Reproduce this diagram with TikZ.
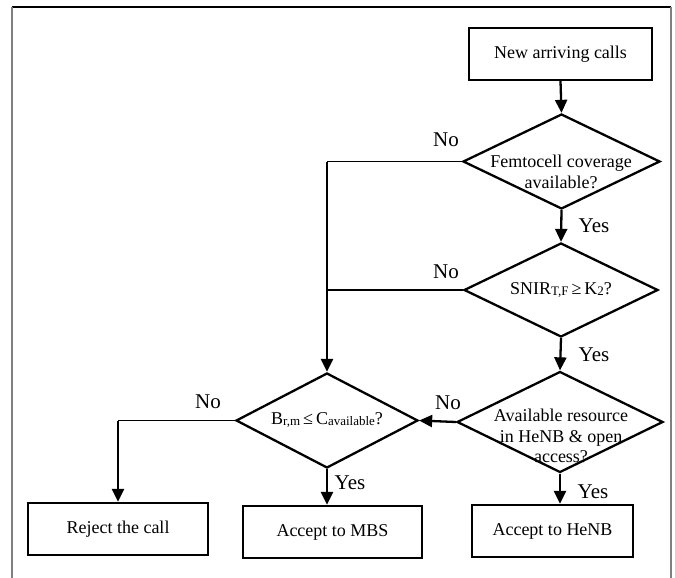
\documentclass[tikz,border=0pt]{standalone}
\usepackage{fontspec}
\setmainfont{Liberation Serif}
\usetikzlibrary{shapes.geometric,arrows.meta}
\begin{document}
\begin{tikzpicture}[x=1pt,y=-1pt,
  txt/.style={font=\fontsize{18}{20.5}\selectfont, inner sep=0pt, align=center},
  box/.style={draw, line width=2.3pt, inner sep=0pt, font=\fontsize{18}{20.5}\selectfont},
  decision/.style={draw, diamond, line width=2.3pt, inner sep=0pt},
  flow/.style={line width=2.3pt, -{Triangle[length=13pt,width=12pt]}},
  branch/.style={line width=1.3pt},
  trunk/.style={line width=2.3pt},
  tag/.style={font=\fontsize{21}{22}\selectfont, inner sep=0pt}]
\useasboundingbox (0,0) rectangle (675,578);

% frame
\draw[line width=1.4pt] (12,7) -- (671,7);
\draw[line width=1.4pt, gray] (12,7) -- (12,578);
\draw[line width=1.4pt, gray] (671,7) -- (671,578);

% process boxes
\node[box, minimum width=183pt, minimum height=52pt] (new) at (560.5,54) {New arriving calls};
\node[box, minimum width=180pt, minimum height=52pt] (rej) at (118,529) {Reject the call};
\node[box, minimum width=179pt, minimum height=52pt] (mbs) at (332.5,532) {Accept to MBS};
\node[box, minimum width=161pt, minimum height=52pt] (henb) at (552.5,531) {Accept to HeNB};

% decision diamonds
\node[decision, minimum width=197pt, minimum height=95pt] (d1) at (561.5,161.5) {};
\node[decision, minimum width=194pt, minimum height=94pt] (d2) at (561,290) {};
\node[decision, minimum width=206pt, minimum height=101pt] (d3) at (560,422) {};
\node[decision, minimum width=182pt, minimum height=95pt] (d4) at (327,420.5) {};

% decision texts
\node[txt] (t1) at (561,172) {Femtocell coverage\\available?};
\node[txt] (t2) at (561,290) {SNIR\raisebox{-1.5pt}{\fontsize{13}{13}\selectfont T,F}\,≥\,K\raisebox{-1.5pt}{\fontsize{13}{13}\selectfont 2}?};
\node[txt] (t3) at (561,436) {Available resource\\in HeNB \& open\\access?};
\node[txt] (t4) at (327,420) {B\raisebox{-1.5pt}{\fontsize{13}{13}\selectfont r,m}\,≤\,C\raisebox{-1.5pt}{\fontsize{13}{13}\selectfont available}?};

% junctions
\coordinate (j1) at (d4.north |- d1.west);
\coordinate (j2) at (d4.north |- d2.west);
\coordinate (j3) at (rej.north |- d4.west);

% connectors
\draw[flow] (new.south) -- (d1.north);
\draw[flow] (d1.south) -- (d2.north);
\draw[flow] (d2.south) -- (d3.north);
\draw[flow] (d3.south) -- (d3.south |- henb.north);
\draw[flow] (d4.south) -- (d4.south |- mbs.north);
\draw[flow] (d3.west) -- (d4.east);
\draw[branch] (d1.west) -- (j1);
\draw[branch] (d2.west) -- (j2);
\draw[trunk] (j1) -- (j2);
\draw[flow] (j2) -- (d4.north);
\draw[branch] (d4.west) -- (j3);
\draw[flow] (j3) -- (rej.north);

% branch labels
\node[tag] (n1) at (446,140) {No};
\node[tag] (n2) at (446,272) {No};
\node[tag] (n3) at (448,403) {No};
\node[tag] (n4) at (208,402) {No};
\node[tag] (y1) at (594,226) {Yes};
\node[tag] (y2) at (594,355) {Yes};
\node[tag] (y3) at (593,492) {Yes};
\node[tag] (y4) at (350,483) {Yes};
\end{tikzpicture}
\end{document}
